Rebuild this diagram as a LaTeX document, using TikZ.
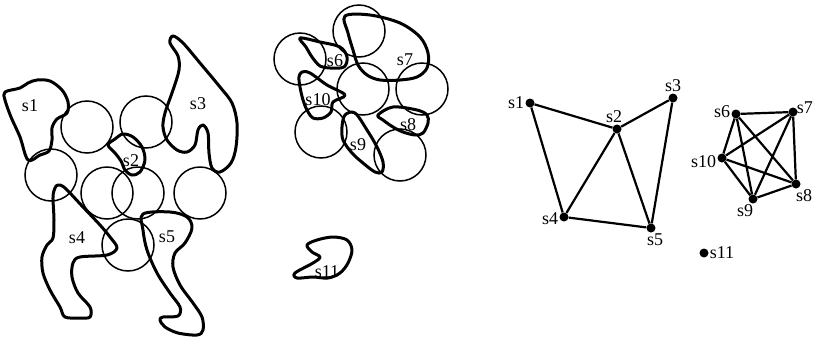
\documentclass[tikz,border=0pt]{standalone}
\usepackage{fontspec}
\setmainfont{Liberation Serif}
\begin{document}
\begin{tikzpicture}[x=1pt,y=-1pt,
  ring/.style={line width=1.5pt},
  blob/.style={line width=3pt,line join=round},
  lab/.style={font=\fontsize{18}{20}\selectfont,inner sep=1pt},
  vtx/.style={circle,fill=black,inner sep=0pt,minimum size=9pt},
  edge/.style={line width=2.2pt}]
\useasboundingbox (0,0) rectangle (815,338);
% ---------- left group circles
\foreach \cx/\cy in {87/127,146/122,51/175,107/193,138/193,200/193,128/245}
  \draw[ring] (\cx,\cy) circle (26pt);
% s1
\draw[blob] plot[smooth cycle,tension=0.55] coordinates {(5,92) (20,88) (28,83) (37,80) (50,81) (62,90) (68,102) (67,113) (57,119) (52,128) (52,140) (49,151) (40,155) (28,160) (20,137) (11,117) (5,100)};
\node[lab] (l1) at (30,106) {s1};
% s2
\draw[blob] plot[smooth cycle,tension=0.55] coordinates {(108,145) (115,139) (123,134) (133,137) (142,147) (145,160) (140,172) (132,175) (125,170) (121,161) (115,153)};
\node[lab] (l2) at (131,161) {s2};
% s3
\draw[blob] plot[smooth cycle,tension=0.55] coordinates {(170,43) (173,36) (183,43) (200,63) (220,87) (232,103) (237,123) (236,147) (231,163) (220,172) (212,168) (209,153) (208,133) (203,125) (198,130) (195,145) (187,152) (177,150) (167,140) (163,127) (165,113) (173,90) (179,70) (178,56)};
\node[lab] (l3) at (198,104) {s3};
% s4
\draw[blob] plot[smooth cycle,tension=0.55] coordinates {(58,185) (65,188) (83,207) (100,225) (110,237) (117,248) (107,255) (80,257) (73,263) (72,277) (78,293) (90,307) (90,317) (80,318) (65,317) (60,307) (50,290) (43,273) (42,257) (47,245) (53,238) (54,220) (53,197) (55,188)};
\node[lab] (l4) at (77,238) {s4};
% s5
\draw[blob] plot[smooth cycle,tension=0.55] coordinates {(143,214) (170,212) (187,217) (192,228) (185,243) (175,253) (173,267) (180,285) (193,303) (202,317) (203,330) (197,335) (178,333) (165,327) (160,320) (163,317) (178,316) (180,307) (170,293) (157,273) (147,250) (143,230)};
\node[lab] (l5) at (167,237) {s5};
% ---------- middle group circles
\foreach \cx/\cy in {359/31,300/59,363/89,422/89,321/132,400/155}
  \draw[ring] (\cx,\cy) circle (26pt);
% s6
\draw[blob] plot[smooth cycle,tension=0.55] coordinates {(300,38) (320,42) (340,47) (347,57) (344,67) (330,68) (320,66) (312,57) (306,47)};
\node[lab] (l6) at (335,61) {s6};
% s7
\draw[blob] plot[smooth cycle,tension=0.55] coordinates {(345,16) (370,15) (400,23) (420,37) (428,53) (427,68) (417,77) (400,80) (380,80) (367,75) (358,65) (353,50) (348,33)};
\node[lab] (l7) at (405,60) {s7};
% s10
\draw[blob] plot[smooth cycle,tension=0.55] coordinates {(302,72) (310,73) (327,85) (345,95) (333,102) (331,112) (323,118) (313,118) (307,110) (303,100) (300,87) (299,77)};
\node[lab] (l10) at (318,100) {s10};
% s9
\draw[blob] plot[smooth cycle,tension=0.55] coordinates {(345,115) (355,113) (367,130) (377,147) (383,162) (382,172) (375,172) (363,163) (352,153) (343,140) (342,127)};
\node[lab] (l9) at (358,145) {s9};
% s8
\draw[blob] plot[smooth cycle,tension=0.55] coordinates {(378,115) (393,107) (417,110) (427,115) (428,123) (423,133) (415,135) (403,132) (393,127) (383,120)};
\node[lab] (l8) at (408,125) {s8};
% s11
\draw[blob] plot[smooth cycle,tension=0.55] coordinates {(295,273) (313,263) (320,257) (312,252) (307,245) (317,240) (333,237) (347,240) (352,250) (348,263) (340,273) (328,278) (313,277) (297,278)};
\node[lab] (l11) at (327,272) {s11};
% ---------- graph
\node[vtx,label={[lab]left:s1}] (g1) at (530,103) {};
\node[vtx,label={[lab,xshift=-3pt]above:s2}] (g2) at (617,129) {};
\node[vtx,label={[lab]above:s3}] (g3) at (673,98) {};
\node[vtx,label={[lab,yshift=-2pt]left:s4}] (g4) at (564,217) {};
\node[vtx,label={[lab,xshift=4pt]below:s5}] (g5) at (651,228) {};
\node[vtx,label={[lab,yshift=2pt]left:s6}] (g6) at (736,114) {};
\node[vtx,label={[lab,xshift=-2pt,yshift=4pt]right:s7}] (g7) at (793,112) {};
\node[vtx,label={[lab,yshift=-4pt]left:s10}] (g10) at (722,158) {};
\node[vtx,label={[lab,xshift=8pt]below:s8}] (g8) at (796,184) {};
\node[vtx,label={[lab,xshift=-8pt]below:s9}] (g9) at (753,199) {};
\node[vtx,label={[lab]right:s11}] (g11) at (704,253) {};
\draw[edge] (g1)--(g2) (g1)--(g4) (g2)--(g3) (g2)--(g4) (g2)--(g5) (g3)--(g5) (g4)--(g5);
\draw[edge] (g6)--(g7) (g6)--(g8) (g6)--(g9) (g6)--(g10) (g7)--(g8) (g7)--(g9) (g7)--(g10) (g8)--(g9) (g8)--(g10) (g9)--(g10);
\end{tikzpicture}
\end{document}
